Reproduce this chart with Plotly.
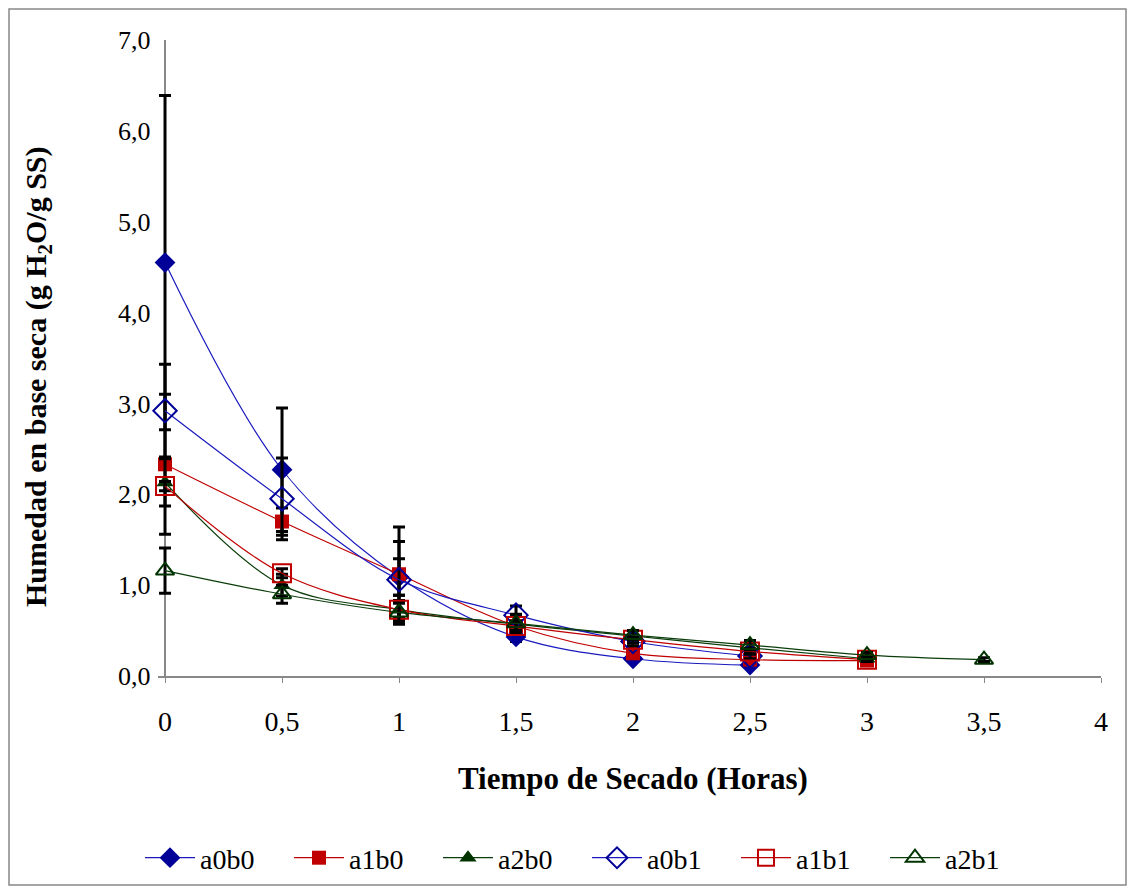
import plotly.graph_objects as go

x_a0 = [0, 0.5, 1, 1.5, 2, 2.5]
x_a1 = [0, 0.5, 1, 1.5, 2, 2.5, 3]
x_a2b1 = [0, 0.5, 1, 1.5, 2, 2.5, 3, 3.5]

a0b0 = [4.55, 2.27, 1.09, 0.43, 0.19, 0.12]
a0b0_err = [1.84, 0.68, 0.20, 0.05, 0.03, 0.02]
a1b0 = [2.33, 1.70, 1.12, 0.55, 0.25, 0.18, 0.17]
a1b0_err = [0.77, 0.15, 0.52, 0.05, 0.03, 0.02, 0.02]
a2b0 = [2.13, 1.00, 0.73, 0.57, 0.44, 0.31, 0.19]
a2b0_err = [0.26, 0.12, 0.16, 0.10, 0.06, 0.05, 0.03]
a0b1 = [2.92, 1.95, 1.06, 0.67, 0.38, 0.22]
a0b1_err = [0.51, 0.45, 0.42, 0.10, 0.05, 0.03]
a1b1 = [2.09, 1.13, 0.73, 0.55, 0.40, 0.27, 0.18]
a1b1_err = [0.05, 0.05, 0.10, 0.05, 0.04, 0.03, 0.02]
a2b1 = [1.16, 0.90, 0.70, 0.58, 0.45, 0.34, 0.23, 0.18]
a2b1_err = [0.25, 0.10, 0.10, 0.10, 0.05, 0.05, 0.03, 0.02]

x_title = "Tiempo de Secado (Horas)"
y_title = "Humedad en base seca (g H<sub>2</sub>O/g SS)"

BLUE_M = "#000099"
BLUE_L = "#1A1ABF"
RED = "#C00000"
GREEN_M = "#003300"
GREEN_L = "#0B3D0B"

series = [
    ("a0b0", x_a0, a0b0, a0b0_err, "diamond", 16, BLUE_M, BLUE_L),
    ("a1b0", x_a1, a1b0, a1b0_err, "square", 14, RED, RED),
    ("a2b0", x_a1, a2b0, a2b0_err, "triangle-up", 15, GREEN_M, GREEN_L),
    ("a0b1", x_a0, a0b1, a0b1_err, "diamond-open", 18, BLUE_M, BLUE_L),
    ("a1b1", x_a1, a1b1, a1b1_err, "square-open", 18, RED, RED),
    ("a2b1", x_a2b1, a2b1, a2b1_err, "triangle-up-open", 16, GREEN_M, GREEN_L),
]

fig = go.Figure()
for name, xs, ys, err, sym, size, mc, lc in series:
    fig.add_trace(go.Scatter(
        x=xs, y=ys, name=name, mode="lines+markers", cliponaxis=False,
        line=dict(color=lc, width=1.2, shape="spline", smoothing=1.0),
        marker=dict(symbol=sym, size=size, color=mc,
                    line=dict(color=mc, width=2 if "open" in sym else 0)),
        error_y=dict(type="data", array=err, visible=True,
                     color="black", thickness=3, width=6),
    ))

FF = "Liberation Serif"
W, H = 1119, 878
L, R, T, B = 150, 26, 32, 210
pw, ph = W - L - R, H - T - B
X_MIN = -0.03
plot_left = L + 8  # screen x of plot-area left edge


def px(sx):
    return (sx - plot_left) / pw


def py(sy):
    return (676 - sy) / ph


fig.update_layout(
    width=W, height=H,
    margin=dict(l=L, r=R, t=T, b=B, autoexpand=False),
    paper_bgcolor="white", plot_bgcolor="white",
    separators=",.",
    font=dict(family=FF, size=26, color="black"),
    showlegend=True,
    legend=dict(orientation="h", x=px(140), xanchor="left", y=py(858), yanchor="middle",
                font=dict(size=28, family=FF), itemwidth=50,
                entrywidth=84, entrywidthmode="pixels"),
    xaxis=dict(range=[X_MIN, 4], dtick=0.5, tick0=0, showgrid=False,
               zeroline=True, zerolinecolor="#888888", zerolinewidth=2,
               showline=True, linecolor="#888888", linewidth=2, layer="below traces",
               ticks="outside", ticklen=5, tickcolor="#888888",
               ticklabelstandoff=14, automargin=False,
               tickfont=dict(size=28, family=FF)),
    yaxis=dict(range=[0, 7], dtick=1, tickformat=".1f", showgrid=False, zeroline=False,
               showline=False, layer="below traces",
               ticks="", ticksuffix="\u00a0", automargin=False,
               tickfont=dict(size=26, family=FF)),
)

fig.add_annotation(text="<b>" + x_title + "</b>", xref="paper", yref="paper",
                   x=px(633), y=py(778), xanchor="center", yanchor="middle",
                   showarrow=False, font=dict(size=31, family=FF, color="black"))
fig.add_annotation(text="<b>" + y_title + "</b>", xref="paper", yref="paper",
                   x=px(38), y=py(377), xanchor="center", yanchor="middle",
                   textangle=-90, showarrow=False,
                   font=dict(size=30, family=FF, color="black"))

fig.add_shape(type="rect", xref="paper", yref="paper",
              x0=(-L + 1) / pw, x1=(W - L - 1) / pw,
              y0=-(H - T - ph - 1) / ph, y1=(ph + T - 1) / ph,
              line=dict(color="#888888", width=1.5), fillcolor="rgba(0,0,0,0)",
              layer="below")

fig.write_html("out.html")
